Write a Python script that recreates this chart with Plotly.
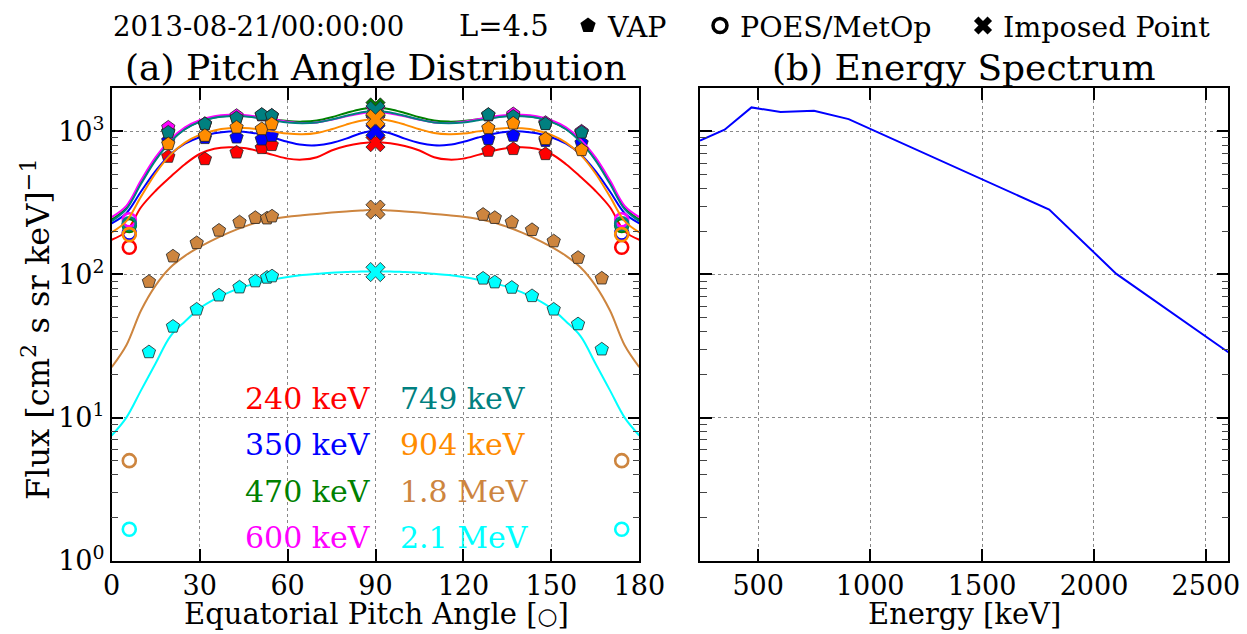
import plotly.graph_objects as go

# ---------------- data ----------------
PA_GRID = [0, 5, 10, 15, 20, 25, 30, 35, 40, 45, 50, 55, 60, 65, 70, 75, 80, 85, 90,
           95, 100, 105, 110, 115, 120, 125, 130, 135, 140, 145, 150, 155, 160, 165, 170, 175, 180]

FIT_240 = [175, 200, 295, 385, 480, 590, 695, 755, 775, 765, 730, 685, 645, 635, 660, 735, 790, 825, 840,
           825, 790, 735, 660, 635, 645, 685, 730, 765, 775, 755, 695, 590, 480, 385, 295, 200, 175]
FIT_350 = [228, 268, 380, 530, 690, 820, 910, 970, 1000, 995, 960, 905, 845, 805, 800, 830, 890, 970, 1015,
           970, 890, 830, 800, 805, 845, 905, 960, 995, 1000, 970, 910, 820, 690, 530, 380, 268, 228]
FIT_470 = [242, 292, 440, 640, 850, 1040, 1170, 1250, 1285, 1285, 1255, 1215, 1180, 1170, 1190, 1255, 1345, 1430, 1470,
           1430, 1345, 1255, 1190, 1170, 1180, 1215, 1255, 1285, 1285, 1250, 1170, 1040, 850, 640, 440, 292, 242]
FIT_600 = [252, 302, 455, 660, 875, 1065, 1195, 1275, 1305, 1300, 1265, 1215, 1170, 1145, 1155, 1205, 1275, 1335, 1364,
           1335, 1275, 1205, 1155, 1145, 1170, 1215, 1265, 1300, 1305, 1275, 1195, 1065, 875, 660, 455, 302, 252]
FIT_749 = [236, 286, 430, 630, 845, 1035, 1165, 1245, 1275, 1275, 1240, 1195, 1155, 1140, 1155, 1210, 1285, 1355, 1394,
           1355, 1285, 1210, 1155, 1140, 1155, 1195, 1240, 1275, 1275, 1245, 1165, 1035, 845, 630, 430, 286, 236]
FIT_904 = [197, 236, 350, 510, 685, 835, 945, 1015, 1050, 1055, 1035, 1000, 965, 955, 975, 1035, 1115, 1185, 1218,
           1185, 1115, 1035, 975, 955, 965, 1000, 1035, 1055, 1050, 1015, 945, 835, 685, 510, 350, 236, 197]
FIT_1800 = [22.5, 32, 56, 84, 112, 135, 156, 176, 196, 215, 232, 244, 253, 259, 265, 271, 276, 280, 284,
            280, 276, 271, 265, 259, 253, 244, 232, 215, 196, 176, 156, 135, 112, 84, 56, 32, 22.5]
FIT_2100 = [7.5, 10, 15.5, 24, 37, 47, 58, 67, 75, 82, 87, 92, 96, 99, 101, 103, 104, 105, 105,
            105, 104, 103, 101, 99, 96, 92, 87, 82, 75, 67, 58, 47, 37, 24, 15.5, 10, 7.5]

# VAP (MagEIS) pitch angles and fluxes
PA_MAGEIS = [19.3, 31.8, 42.6, 51.2, 54.6, 128.5, 137.0, 148.0, 160.3]
VAP_240 = [666, 641, 713, 766, 804, 733, 754, 695, None]
VAP_350 = [860, 900, 908, 880, 933, 885, 933, 860, 830]
VAP_470 = [1000, 1120, 1250, 1300, 1280, 1300, 1290, 1130, 990]
VAP_600 = [1066, 1130, 1287, 1300, 1290, 1300, 1322, 1150, 1000]
VAP_749 = [984, 1126, 1240, 1309, 1290, 1309, 1270, 1126, 984]
VAP_904 = [816, 933, 1066, 1039, 1126, 1056, 1137, 885, 741]
# VAP (REPT) pitch angles and fluxes
PA_REPT = [12.7, 20.9, 29.0, 36.6, 43.6, 49.0, 53.0, 54.7, 126.7, 130.7, 136.5, 143.4, 150.8, 159.1, 167.2]
VAP_1800 = [89, 134, 166, 203, 232, 249, 247, 255, 262, 249, 232, 205, 171, 131, 94]
VAP_2100 = [28.7, 43.3, 57, 71.5, 81.4, 89.8, 95.2, 97.3, 93.8, 88.3, 81, 70.8, 57, 45, 30]

# POES/MetOp
PA_POES = [6, 174]
POES = {"240": [155, 155], "350": [195, 195], "470": [220, 220], "600": [241, 241],
        "749": [226, 226], "904": [190, 190], "1800": [5.0, 5.0], "2100": [1.66, 1.66]}

# Imposed point at 90 deg
PA_IMPOSED = [90]
IMPOSED = {"240": 840, "350": 1015, "470": 1470, "600": 1364, "749": 1394, "904": 1218,
           "1800": 284, "2100": 104}

# Energy spectrum
SPEC_E = [240, 350, 470, 600, 749, 904, 1800, 2100, 2600]
SPEC_F = [861, 1027, 1470, 1364, 1394, 1218, 284, 101, 28.6]

CHANNELS = [
    ("240", "240 keV", "#ff0000", FIT_240, PA_MAGEIS, VAP_240),
    ("350", "350 keV", "#0000ff", FIT_350, PA_MAGEIS, VAP_350),
    ("470", "470 keV", "#008000", FIT_470, PA_MAGEIS, VAP_470),
    ("600", "600 keV", "#ff00ff", FIT_600, PA_MAGEIS, VAP_600),
    ("749", "749 keV", "#008080", FIT_749, PA_MAGEIS, VAP_749),
    ("904", "904 keV", "#ff8c00", FIT_904, PA_MAGEIS, VAP_904),
    ("1800", "1.8 MeV", "#cd853f", FIT_1800, PA_REPT, VAP_1800),
    ("2100", "2.1 MeV", "#00ffff", FIT_2100, PA_REPT, VAP_2100),
]

FONT = "DejaVu Serif"
W, H = 1247, 634

fig = go.Figure()

for key, label, col, fit, pa, vap in CHANNELS:
    fig.add_trace(go.Scatter(x=PA_GRID, y=fit, mode="lines", line=dict(color=col, width=2, shape="spline", smoothing=1.0),
                             showlegend=False, xaxis="x", yaxis="y", hoverinfo="skip"))
    fig.add_trace(go.Scatter(x=pa, y=vap, mode="markers",
                             marker=dict(symbol="pentagon", size=14, color=col, line=dict(color="#222", width=0.8)),
                             showlegend=False, xaxis="x", yaxis="y"))
    fig.add_trace(go.Scatter(x=PA_POES, y=POES[key], mode="markers",
                             marker=dict(symbol="circle-open", size=13, color=col, line=dict(color=col, width=2.6)),
                             showlegend=False, xaxis="x", yaxis="y"))
    fig.add_trace(go.Scatter(x=PA_IMPOSED, y=[IMPOSED[key]], mode="markers",
                             marker=dict(symbol="x", size=17, color=col, line=dict(color="#222", width=0.8)),
                             showlegend=False, xaxis="x", yaxis="y"))

# legend-only entries (one legend box each, to place them like the reference)
fig.add_trace(go.Scatter(x=[None], y=[None], mode="markers", name="VAP", legend="legend",
                         marker=dict(symbol="pentagon", size=16, color="black"), xaxis="x", yaxis="y"))
fig.add_trace(go.Scatter(x=[None], y=[None], mode="markers", name="POES/MetOp", legend="legend2",
                         marker=dict(symbol="circle-open", size=14, color="black", line=dict(width=3.5, color="black")),
                         xaxis="x", yaxis="y"))
fig.add_trace(go.Scatter(x=[None], y=[None], mode="markers", name="Imposed Point", legend="legend3",
                         marker=dict(symbol="x", size=16, color="black"), xaxis="x", yaxis="y"))

fig.add_trace(go.Scatter(x=SPEC_E, y=SPEC_F, mode="lines", line=dict(color="#0000ff", width=2),
                         showlegend=False, xaxis="x2", yaxis="y2"))

minor_vals = [m * 10 ** d for d in range(0, 4) for m in range(2, 10) if m * 10 ** d <= 2000]

common_axis = dict(showline=True, linecolor="black", linewidth=1.5, mirror="allticks",
                   ticks="inside", ticklen=12, tickwidth=1.5, tickcolor="black",
                   showgrid=True, gridcolor="#888", griddash="dot", gridwidth=1, automargin=False,
                   zeroline=False, tickfont=dict(family=FONT, size=27, color="black"))

ylog = dict(type="log", range=[0, 3.301], tickmode="array", tickvals=[1, 10, 100, 1000],
            ticktext=["10<sup>0</sup>", "10<sup>1</sup>", "10<sup>2</sup>", "10<sup>3</sup>"],
            minor=dict(tickmode="array", tickvals=minor_vals, ticks="inside", ticklen=7,
                       tickcolor="#444", tickwidth=1, showgrid=False),
            domain=[1 - 560.7 / H, 1 - 88.3 / H])

leg = dict(orientation="h", y=1 - 26 / H, xanchor="left", yanchor="middle",
           font=dict(family=FONT, size=28.5, color="black"), bgcolor="rgba(0,0,0,0)",
           itemsizing="trace")

fig.update_layout(
    template="none",
    width=W, height=H, margin=dict(l=0, r=0, t=0, b=0, pad=0, autoexpand=False),
    paper_bgcolor="white", plot_bgcolor="white",
    font=dict(family=FONT, color="black"),
    xaxis=dict(common_axis, domain=[111.7 / W, 639.3 / W], range=[0, 180], tickmode="array",
               tickvals=[0, 30, 60, 90, 120, 150, 180], anchor="y"),
    yaxis=dict(common_axis, **ylog, anchor="x"),
    xaxis2=dict(common_axis, domain=[700 / W, 1228.3 / W], range=[240, 2600], tickmode="array",
                tickvals=[500, 1000, 1500, 2000, 2500], anchor="y2"),
    yaxis2=dict(common_axis, **ylog, anchor="x2", showticklabels=False),
    legend=dict(leg, x=(590 - 22) / W),
    legend2=dict(leg, x=(722 - 22) / W),
    legend3=dict(leg, x=(985 - 22) / W),
)

ann = []
ann.append(dict(text="2013-08-21/00:00:00", x=111 / W, y=1 - 26 / H, xref="paper", yref="paper",
                xanchor="left", yanchor="middle", showarrow=False, font=dict(family=FONT, size=27.5)))
ann.append(dict(text="L=4.5", x=551 / W, y=1 - 26 / H, xref="paper", yref="paper",
                xanchor="right", yanchor="middle", showarrow=False, font=dict(family=FONT, size=29)))
ann.append(dict(text="(a) Pitch Angle Distribution", x=375.5 / W, y=1 - 67 / H, xref="paper", yref="paper",
                xanchor="center", yanchor="middle", showarrow=False, font=dict(family=FONT, size=36)))
ann.append(dict(text="(b) Energy Spectrum", x=964 / W, y=1 - 67 / H, xref="paper", yref="paper",
                xanchor="center", yanchor="middle", showarrow=False, font=dict(family=FONT, size=36)))
ann.append(dict(text='Equatorial Pitch Angle [<span style="font-size:23px">○</span>]', x=376 / W, y=1 - 614 / H,
                xref="paper", yref="paper", xanchor="center", yanchor="middle", showarrow=False,
                font=dict(family=FONT, size=29)))
ann.append(dict(text="Energy [keV]", x=964 / W, y=1 - 614 / H, xref="paper", yref="paper",
                xanchor="center", yanchor="middle", showarrow=False, font=dict(family=FONT, size=29)))
ann.append(dict(text="Flux [cm<sup>2</sup> s sr keV]<sup>−1</sup>", x=36 / W, y=1 - 329 / H, xref="paper", yref="paper",
                xanchor="center", yanchor="middle", showarrow=False, textangle=-90, font=dict(family=FONT, size=32)))

rows_y = [398, 444.5, 491, 537.5]
for i, (key, label, col, *_rest) in enumerate(CHANNELS):
    colx = 243 if i < 4 else 398
    ann.append(dict(text=label, x=colx / W, y=1 - rows_y[i % 4] / H, xref="paper", yref="paper",
                    xanchor="left", yanchor="middle", showarrow=False, font=dict(family=FONT, size=30, color=col)))

fig.update_layout(annotations=ann)
fig.write_html("out.html", config={"displayModeBar": False},
               post_script="document.body.style.margin='0';document.body.style.overflow='hidden';")
